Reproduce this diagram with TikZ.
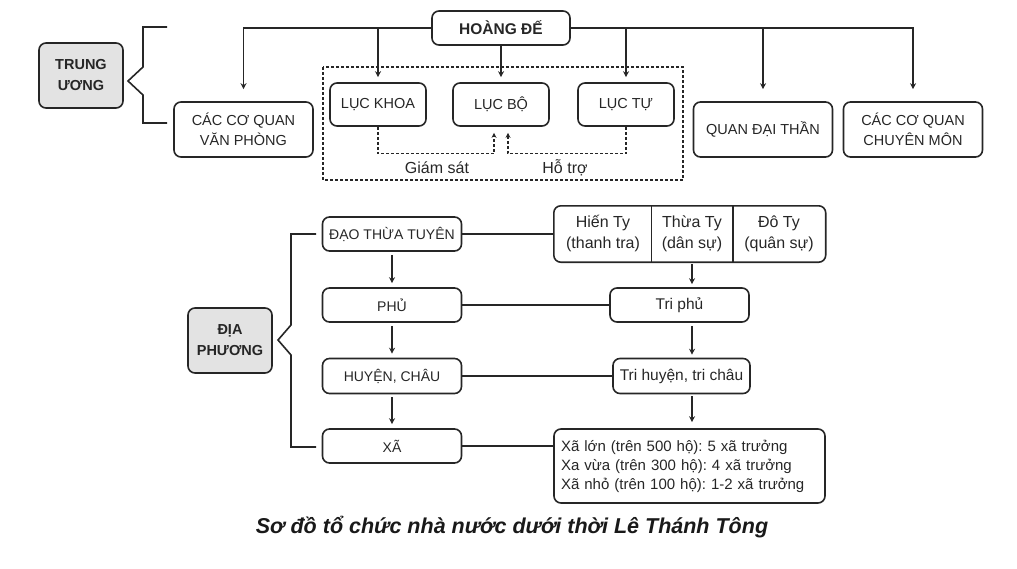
\documentclass[tikz,border=0pt]{standalone}
\usepackage{fontspec}
\setmainfont{Liberation Sans}
\usetikzlibrary{arrows.meta}
\tikzset{
 link/.style={draw=black!85,line width=1.6pt},
 arrowlink/.style={link,-{Stealth[length=6pt,width=6pt]}},
 helplink/.style={draw=black!85,line width=1.2pt,dash pattern=on 3pt off 2pt,-{Stealth[length=5pt,width=5pt]}},
 frame/.style={draw=black!85,line width=1.2pt,dash pattern=on 3pt off 2pt},
 unitbox/.style={draw=black!85,line width=1.6pt,rounded corners=7pt,align=center,inner sep=0,text=black!85,font=\fontsize{14.5}{20}\selectfont},
 rankbox/.style={unitbox,fill=gray!22,minimum width=84,minimum height=65,font=\bfseries\fontsize{14.5}{21}\selectfont},
 headbox/.style={unitbox,minimum width=138,minimum height=34,font=\bfseries\fontsize{15.5}{20}\selectfont},
 smallbox/.style={unitbox,minimum width=96,minimum height=43},
 tallbox/.style={unitbox,minimum width=139,minimum height=55},
 flatbox/.style={unitbox,minimum width=139,minimum height=34,font=\fontsize{14}{20}\selectfont},
 textbox/.style={flatbox,font=\fontsize{15.5}{19}\selectfont},
 tycell/.style={inner sep=0,minimum height=56,align=center,text=black!85,font=\fontsize{16}{21}\selectfont},
 notetext/.style={text=black!85,font=\fontsize{16}{18}\selectfont},
 caption/.style={text=black!90,font=\bfseries\itshape\fontsize{21.5}{24}\selectfont}
}
\begin{document}
\frenchspacing
\begin{tikzpicture}[x=1pt,y=-1pt]
\path[use as bounding box] (0,0) rectangle (1017,568);
\node[headbox] (hoang) at (501,28) {HOÀNG ĐẾ};
\node[rankbox] (trung) at (81,75.5) {TRUNG\\ƯƠNG};
\node[tallbox] (vanphong) at (243.5,129.5) {CÁC CƠ QUAN\\VĂN PHÒNG};
\node[smallbox] (luckhoa) at (378,104.5) {LỤC KHOA};
\node[smallbox] (lucbo) at (501,104.5) {LỤC BỘ};
\node[smallbox] (luctu) at (626,104.5) {LỤC TỰ};
\node[tallbox] (daithan) at (763,129.5) {QUAN ĐẠI THẦN};
\node[tallbox] (chuyenmon) at (913,129.5) {CÁC CƠ QUAN\\CHUYÊN MÔN};
\draw[frame] (323,67) rectangle (683,180);
\draw[arrowlink,shorten >=12pt] (hoang.west) -| (vanphong.north);
\draw[arrowlink,shorten >=12pt] (hoang.east) -| (chuyenmon.north);
\draw[arrowlink,shorten >=5pt] (hoang.west -| luckhoa.north) -- (luckhoa.north);
\draw[arrowlink,shorten >=5pt] (hoang.south) -- (lucbo.north);
\draw[arrowlink,shorten >=5pt] (hoang.east -| luctu.north) -- (luctu.north);
\draw[arrowlink,shorten >=12pt] (hoang.east -| daithan.north) -- (daithan.north);
\draw[helplink,shorten >=6pt] (luckhoa.south) -- ++(0,27) -| ([xshift=-7pt]lucbo.south);
\draw[helplink,shorten >=6pt] (luctu.south) -- ++(0,27) -| ([xshift=7pt]lucbo.south);
\node[notetext] (giamsat) at (437,168) {Giám sát};
\node[notetext] (hotro) at (565,168) {Hỗ trợ};
\draw[link] (167,27) -| (143,67) -- (128,81) -- (143,95) |- (167,123);
\node[flatbox] (dao) at (392,234) {ĐẠO THỪA TUYÊN};
\node[flatbox] (phu) at (392,305) {PHỦ};
\node[flatbox,minimum height=35] (huyen) at (392,376) {HUYỆN, CHÂU};
\node[flatbox] (xa) at (392,446) {XÃ};
\node[rankbox] (diaphuong) at (230,340.5) {ĐỊA\\PHƯƠNG};
\draw[link] (316,234) -| (291,325) -- (278,340) -- (291,355) |- (316,447);
\draw[arrowlink,shorten <=3pt,shorten >=4pt] (dao.south) -- (phu.north);
\draw[arrowlink,shorten <=3pt,shorten >=4pt] (phu.south) -- (huyen.north);
\draw[arrowlink,shorten <=3pt,shorten >=4pt] (huyen.south) -- (xa.north);
\node[tycell,minimum width=98] (hienty) at (603,234) {Hiến Ty\\(thanh tra)};
\node[tycell,minimum width=81] (thuaty) at (692,234) {Thừa Ty\\(dân sự)};
\node[tycell,minimum width=93] (doty) at (779,234) {Đô Ty\\(quân sự)};
\draw[link,rounded corners=7pt] (hienty.north west) rectangle (doty.south east);
\draw[link] (thuaty.north west) -- (thuaty.south west);
\draw[link] (thuaty.north east) -- (thuaty.south east);
\node[textbox] (triphu) at (679.5,305) {Tri phủ};
\node[textbox,minimum width=137,minimum height=35] (trihuyen) at (681.5,376) {Tri huyện, tri châu};
\node[unitbox,align=left,text width=257pt,inner xsep=7pt,minimum height=74,font=\fontsize{15}{19}\selectfont] (xatruong) at (689.5,466) {Xã lớn (trên 500 hộ): 5 xã trưởng\\Xa vừa (trên 300 hộ): 4 xã trưởng\\Xã nhỏ (trên 100 hộ): 1-2 xã trưởng};
\draw[link] (dao.east) -- (hienty.west);
\draw[link] (phu.east) -- (triphu.west);
\draw[link] (huyen.east) -- (trihuyen.west);
\draw[link] (xa.east) -- (xa.east -| xatruong.west);
\draw[arrowlink,shorten <=2pt,shorten >=3pt] (thuaty.south) -- (thuaty.south |- triphu.north);
\draw[arrowlink,shorten <=3pt,shorten >=3pt] (thuaty.south |- triphu.south) -- (thuaty.south |- trihuyen.north);
\draw[arrowlink,shorten <=2pt,shorten >=6pt] (thuaty.south |- trihuyen.south) -- (thuaty.south |- xatruong.north);
\node[caption] (title) at (512,527) {Sơ đồ tổ chức nhà nước dưới thời Lê Thánh Tông};
\end{tikzpicture}
\end{document}
